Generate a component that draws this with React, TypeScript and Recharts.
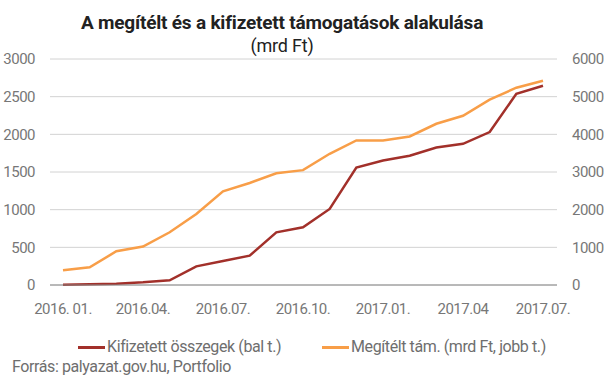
import React from 'react';
import { LineChart, Line, XAxis, YAxis, CartesianGrid } from 'recharts';

const months = [
  '2016. 01.', '2016.02.', '2016.03.', '2016.04.', '2016.05.', '2016.06.', '2016.07.',
  '2016.08.', '2016.09.', '2016.10.', '2016.11.', '2016.12.', '2017.01.', '2017.02.',
  '2017.03.', '2017.04', '2017.05.', '2017.06.', '2017.07.',
];
// bal tengely, mrd Ft
const kifizetett = [4, 9, 18, 35, 62, 248, 319, 389, 699, 767, 1010, 1560, 1653, 1715, 1826, 1874, 2030, 2539, 2645];
// jobb tengely, mrd Ft
const megitelt = [390, 470, 895, 1020, 1400, 1885, 2487, 2708, 2965, 3050, 3483, 3838, 3838, 3944, 4281, 4493, 4919, 5238, 5424];

const leftTicks = [0, 500, 1000, 1500, 2000, 2500, 3000];
const rightTicks = [0, 1000, 2000, 3000, 4000, 5000, 6000];

const data = months.map((m, i) => ({ month: m, kifizetett: kifizetett[i], megitelt: megitelt[i] }));

const FONT = 'Roboto, "Noto Sans", sans-serif';
const RED = '#a2302a';
const ORANGE = '#f89e48';
const tickStyle = { fontSize: 15, fill: '#777', fontFamily: FONT, letterSpacing: -0.5 };
const legendText = { fontSize: 16, color: '#6e6e6e', letterSpacing: -0.4, lineHeight: '20px' };

export default function App() {
  return (
    <div style={{ position: 'absolute', left: 0, top: 0, width: 607, height: 380, background: '#fff', fontFamily: FONT }}>
      <div style={{ position: 'absolute', left: 0, width: 564, top: 11, textAlign: 'center', fontSize: 19, fontWeight: 700, color: '#222', letterSpacing: -0.2, lineHeight: '24px' }}>
        A megítélt és a kifizetett támogatások alakulása
      </div>
      <div style={{ position: 'absolute', left: 0, width: 564, top: 35, textAlign: 'center', fontSize: 18, color: '#222', letterSpacing: -0.2, lineHeight: '22px' }}>
        (mrd Ft)
      </div>

      <LineChart width={607} height={380} data={data} margin={{ top: 59, right: 0, left: 0, bottom: 65 }}>
        <CartesianGrid yAxisId="left" vertical={false} stroke="#d2d2d2" />
        <XAxis
          dataKey="month"
          interval={2}
          height={30}
          padding={{ left: 13, right: 14 }}
          tickLine={false}
          tickMargin={12}
          axisLine={{ stroke: '#888' }}
          tick={tickStyle}
        />
        <YAxis
          yAxisId="left"
          domain={[0, 3000]}
          ticks={leftTicks}
          width={50}
          axisLine={false}
          tickLine={false}
          tickMargin={9}
          tick={tickStyle}
        />
        <YAxis
          yAxisId="right"
          orientation="right"
          domain={[0, 6000]}
          ticks={rightTicks}
          width={50}
          axisLine={false}
          tickLine={false}
          tickMargin={9}
          tick={tickStyle}
        />
        <Line yAxisId="right" type="linear" dataKey="megitelt" stroke={ORANGE} strokeWidth={2.5} dot={false} isAnimationActive={false} />
        <Line yAxisId="left" type="linear" dataKey="kifizetett" stroke={RED} strokeWidth={2.5} dot={false} isAnimationActive={false} />
      </LineChart>

      <div style={{ position: 'absolute', top: 337, left: 78, display: 'flex', alignItems: 'center', ...legendText }}>
        <span style={{ display: 'inline-block', width: 27, height: 3, background: RED, marginRight: 2 }} />
        Kifizetett összegek (bal t.)
      </div>
      <div style={{ position: 'absolute', top: 337, left: 322, display: 'flex', alignItems: 'center', ...legendText }}>
        <span style={{ display: 'inline-block', width: 27, height: 3, background: ORANGE, marginRight: 2 }} />
        Megítélt tám. (mrd Ft, jobb t.)
      </div>
      <div style={{ position: 'absolute', top: 357, left: 12, ...legendText }}>
        Forrás: palyazat.gov.hu, Portfolio
      </div>
    </div>
  );
}
